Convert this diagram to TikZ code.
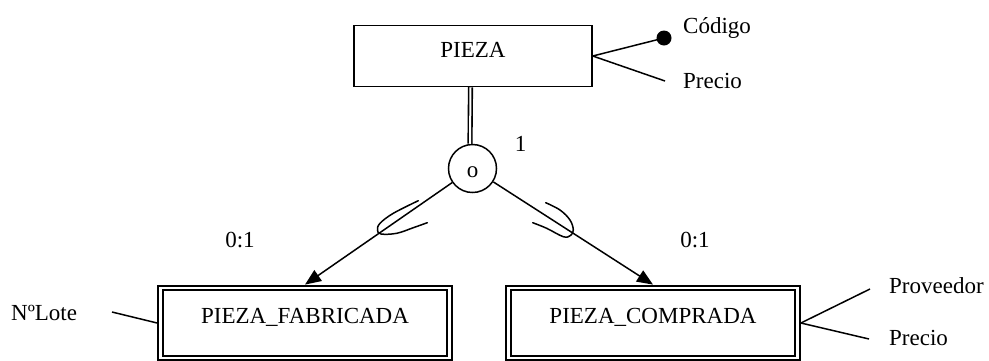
\documentclass[tikz,border=0pt]{standalone}
\usepackage{fontspec}
\setmainfont{Liberation Serif}
\usetikzlibrary{arrows.meta}
\begin{document}
\begin{tikzpicture}[x=1pt,y=-1pt,
  every node/.style={font=\fontsize{23}{27}\selectfont, inner sep=0pt},
  conn/.style={line width=1.5pt},
  entity/.style={draw, line width=1.5pt, minimum width=238pt, minimum height=61pt,
    text height=15pt, text depth=13pt},
  subentity/.style={draw, line width=2.2pt, double, double distance=2.4pt,
    minimum width=289pt, minimum height=70pt, text height=15pt, text depth=15pt,
    outer sep=3.4pt},
  gen/.style={draw, circle, line width=1.5pt, minimum size=48pt,
    text height=17.4pt, text depth=0pt},
  keydot/.style={fill, circle, minimum size=15pt},
  attr/.style={anchor=base west},
  card/.style={anchor=base},
  subset/.style={line width=1.5pt, line cap=round},
  isa/.style={conn, -{Triangle[length=16pt,width=13pt]}},
  totalline/.style={line width=1.6pt, double, double distance=2pt}
]
\useasboundingbox (0,0) rectangle (989,360);

% superclass and specialisation circle
\node[entity] (pieza) at (473,56) {PIEZA};
\node[gen] (circ) at (472.5,168.5) {o};
\node[card] (one) at (520.5,151.5) {1};

% subclasses
\node[subentity] (fab) at (305,323) {PIEZA\_FABRICADA};
\node[subentity] (comp) at (653,323) {PIEZA\_COMPRADA};

% attributes of PIEZA
\node[keydot] (codot) at (664,38) {};
\node[attr] (codigo) at (683,33) {Código};
\coordinate (precioend) at (665,81);
\node[attr] (precio) at (683,88) {Precio};
\draw[conn] (pieza.east) -- (codot.center);
\draw[conn] (pieza.east) -- (precioend);

% attribute of PIEZA_FABRICADA
\coordinate (loteend) at (112,312);
\node[attr] (lote) at (11,320) {NºLote};
\draw[conn] (fab.west) -- (loteend);

% attributes of PIEZA_COMPRADA
\coordinate (provend) at (870,289);
\coordinate (precio2end) at (869,339);
\node[attr] (prov) at (889,293) {Proveedor};
\node[attr] (precio2) at (889,345) {Precio};
\draw[conn] (comp.east) -- (provend);
\draw[conn] (comp.east) -- (precio2end);

% total participation of the superclass
\draw[totalline] ([xshift=-2.5pt]pieza.south) -- ([xshift=-2.5pt]circ.north);

% specialisation links
\draw[isa] (circ) -- (fab.north);
\draw[isa] (circ) -- (comp.north);
\node[card] (cfab) at (240,247) {0:1};
\node[card] (ccomp) at (695,247) {0:1};

% subset marks on the links
\draw[subset] plot[smooth, tension=0.6] coordinates
  {(418.3,200.7) (393.3,213.3) (380,223.3) (377.5,230) (381,234) (396.7,233.3) (413.3,227.7) (427.3,222.7)};
\draw[subset] plot[smooth, tension=0.6] coordinates
  {(545.7,202.7) (560,210) (570,220) (573.3,230) (570.5,235.5) (563.3,236.7) (546.7,228.3) (532.7,222.7)};
\end{tikzpicture}
\end{document}
